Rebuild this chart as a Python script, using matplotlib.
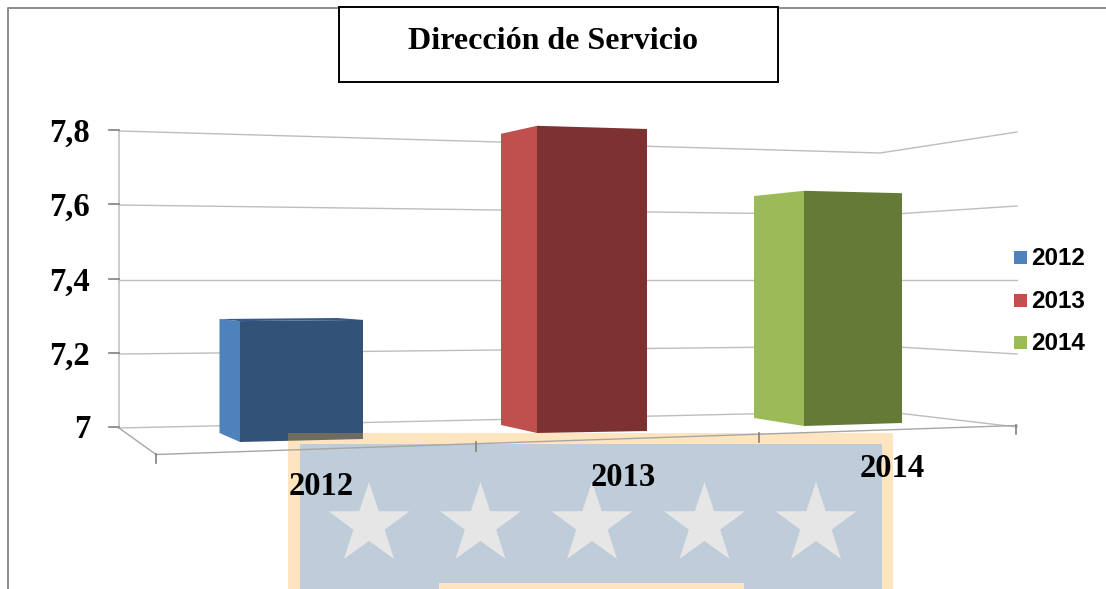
import numpy as np
import matplotlib
matplotlib.use("Agg")
import matplotlib.pyplot as plt
from matplotlib.patches import Polygon, Rectangle

# ---- data ----
categories = ["2012", "2013", "2014"]
values = [7.3, 7.8, 7.6]
y_ticks = [7.0, 7.2, 7.4, 7.6, 7.8]
y_tick_labels = ["7", "7,2", "7,4", "7,6", "7,8"]
title = "Dirección de Servicio"

# ---- styles ----
side_colors = ["#4F81BD", "#C0504D", "#9BBB59"]
front_colors = ["#325278", "#7B3230", "#667A38"]
SERIF = "Liberation Serif"
SANS = "Liberation Sans"
BASE = 7.0

# perspective geometry, in pixels: x, floor y, pixels per value unit of each bar edge
edges = [
    {"x": (219.5, 240, 363), "floor": (433, 442, 439), "ppu": (380, 403, 397)},
    {"x": (501, 537, 647), "floor": (425, 433, 431), "ppu": (364, 384, 377.5)},
    {"x": (754, 804, 902), "floor": (418, 426, 423), "ppu": (370, 392, 383)},
]
# gridline y at left wall, back corner, right end
wall_x = (119, 880, 1017)
wall_y = {7.0: (428, 411, 427), 7.2: (354, 346, 354), 7.4: (280, 280, 280),
          7.6: (205, 215, 206), 7.8: (131, 153, 132)}
cat_label_pos = [(321, 486.5), (623, 477.5), (892, 468.5)]
cat_ticks = [(156, 454), (476, 442), (759, 433), (1016, 425)]
legend_y = [258.5, 301.5, 343.5]

fig = plt.figure(figsize=(11.06, 5.89), dpi=100, facecolor="white")
ax = fig.add_axes([0, 0, 1, 1])
ax.set_xlim(0, 1106)
ax.set_ylim(589, 0)
ax.axis("off")

# outer frame
ax.plot([8, 8, 1106], [589, 7.5, 7.5], color="#8C8C8C", lw=1.4, zorder=1)

# walls and gridlines
ax.plot([119, 119], [131, 428], color="#C4C4C4", lw=1.2, zorder=1)
for t, lab in zip(y_ticks, y_tick_labels):
    ys = wall_y[t]
    ax.plot(wall_x, ys, color="#BDBDBD", lw=1.0, zorder=1)
    ax.plot([109, 119], [ys[0] - 1, ys[0] - 1], color="#808080", lw=1.2, zorder=1)
    ax.text(90, ys[0] + 2, lab, ha="right", va="center", family=SERIF,
            fontweight="bold", fontsize=23.5, color="black", zorder=5)

# bars
for i, v in enumerate(values):
    g = edges[i]
    tops = [f - (v - BASE) * p for f, p in zip(g["floor"], g["ppu"])]
    xs = g["x"]
    ax.add_patch(Polygon([(xs[0], g["floor"][0]), (xs[1], g["floor"][1]),
                          (xs[1], tops[1]), (xs[0], tops[0])],
                         closed=True, fc=side_colors[i], ec="none", zorder=2))
    ax.add_patch(Polygon([(xs[1], g["floor"][1]), (xs[2], g["floor"][2]),
                          (xs[2], tops[2]), (xs[1], tops[1])],
                         closed=True, fc=front_colors[i], ec="none", zorder=2))
    # top face, seen only on the short bar below the eye line
    if tops[0] < tops[1]:
        back_x = xs[0] + (xs[2] - xs[1]) * 0.96
        back_y = min(tops[0], tops[2]) - 1.0
        ax.add_patch(Polygon([(xs[0], tops[0]), (xs[1], tops[1]), (xs[2], tops[2]),
                              (back_x, back_y)],
                             closed=True, fc="#36598A", ec="none", zorder=2))

# watermark
ax.add_patch(Rectangle((288, 433), 605, 160, fc=(252 / 255, 168 / 255, 45 / 255),
                       alpha=0.3, ec="none", zorder=3))
ax.add_patch(Rectangle((300, 444), 582, 150, fc="#BFCCD9", ec="none", zorder=3.1))
ax.add_patch(Rectangle((439, 583), 305, 10, fc="#FEE5C0", ec="none", zorder=3.2))
for cx in (369, 480.5, 592, 704.5, 816):
    ang = np.deg2rad(np.arange(10) * 36 - 90)
    rad = np.where(np.arange(10) % 2 == 0, 42.5, 16.5)
    ax.add_patch(Polygon(np.c_[cx + rad * np.cos(ang), 524.5 + rad * np.sin(ang)],
                         closed=True, fc="#E6E6E6", ec="none", zorder=3.2))

# floor
ax.plot([119, 156, 1017], [428, 454.5, 425.5], color="#A6A6A6", lw=1.0, zorder=4)
for x, y in cat_ticks:
    ax.plot([x, x], [y, y + 9], color="#808080", lw=1.2, zorder=4)
for lab, (x, y) in zip(categories, cat_label_pos):
    ax.text(x, y, lab, ha="center", va="center", family=SERIF, fontweight="bold",
            fontsize=23.5, color="black", zorder=5)

# title box
ax.add_patch(Rectangle((339, 7), 439, 75, fc="white", ec="black", lw=1.4, zorder=6))
ax.text(552.5, 41.5, title, ha="center", va="center", family=SERIF, fontweight="bold",
        fontsize=23, color="black", zorder=7)

# legend
for lab, col, y in zip(categories, side_colors, legend_y):
    ax.add_patch(Rectangle((1014, y - 7.5), 13, 13, fc=col, ec="none", zorder=6))
    ax.text(1031, y, lab, ha="left", va="center", family=SANS, fontweight="bold",
            fontsize=17.5, color="black", zorder=7)

fig.savefig("out.png", dpi=100, facecolor="white")
